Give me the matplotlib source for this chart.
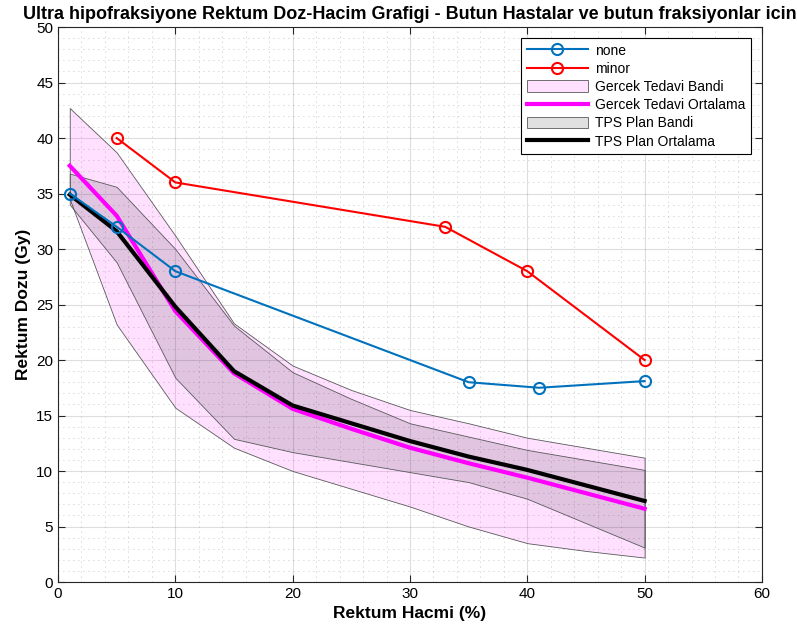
import numpy as np
import matplotlib
matplotlib.use("Agg")
import matplotlib.pyplot as plt
from matplotlib.ticker import MultipleLocator

plt.rcParams['font.family'] = ['Liberation Sans', 'DejaVu Sans']

# hasta egrileri
none_x = [1, 5, 10, 35, 41, 50]
none_y = [35.0, 32.0, 28.0, 18.0, 17.5, 18.1]
minor_x = [5, 10, 33, 40, 50]
minor_y = [40.0, 36.0, 32.0, 28.0, 20.0]

# bantlar ve ortalamalar
band_x = [1, 5, 10, 15, 20, 25, 30, 35, 40, 45, 50]
gercek_ust = [42.7, 38.7, 31.2, 23.3, 19.5, 17.3, 15.5, 14.3, 13.0, 12.1, 11.2]
gercek_alt = [34.5, 23.2, 15.7, 12.1, 10.0, 8.4, 6.8, 5.0, 3.5, 2.8, 2.2]
gercek_ort = [37.5, 33.0, 24.4, 18.8, 15.6, 13.8, 12.1, 10.7, 9.4, 8.0, 6.6]
tps_ust = [36.8, 35.6, 30.0, 23.1, 18.9, 16.5, 14.3, 13.1, 11.9, 11.0, 10.1]
tps_alt = [34.0, 28.8, 18.4, 12.9, 11.7, 10.8, 9.9, 9.0, 7.5, 5.3, 3.1]
tps_ort = [34.9, 31.6, 24.8, 19.0, 15.9, 14.3, 12.7, 11.3, 10.1, 8.7, 7.3]

fig = plt.figure(figsize=(7.97, 6.39), dpi=100)
ax = fig.add_axes([0.0728, 0.0892, 0.8832, 0.8685])

edge = (0.35, 0.35, 0.35)
l1, = ax.plot(none_x, none_y, '-o', color=(0, 0.447, 0.741), lw=1.5, ms=8,
              mfc='none', mew=1.5, zorder=5, label='none')
l2, = ax.plot(minor_x, minor_y, '-o', color='r', lw=1.5, ms=8,
              mfc='none', mew=1.5, zorder=5, label='minor')
f1 = ax.fill_between(band_x, gercek_alt, gercek_ust, facecolor=(1, 0, 1, 0.12),
                     edgecolor=edge, lw=0.6, zorder=2, label='Gercek Tedavi Bandi')
l3, = ax.plot(band_x, gercek_ort, color='#FF00FF', lw=3, zorder=3, label='Gercek Tedavi Ortalama')
f2 = ax.fill_between(band_x, tps_alt, tps_ust, facecolor=(0, 0, 0, 0.12),
                     edgecolor=edge, lw=0.6, zorder=2.5, label='TPS Plan Bandi')
l4, = ax.plot(band_x, tps_ort, color='k', lw=3, zorder=4, label='TPS Plan Ortalama')

ax.set_xlim(0, 60)
ax.set_ylim(0, 50)
ax.xaxis.set_major_locator(MultipleLocator(10))
ax.xaxis.set_minor_locator(MultipleLocator(2))
ax.yaxis.set_major_locator(MultipleLocator(5))
ax.yaxis.set_minor_locator(MultipleLocator(1))
ax.tick_params(which='both', direction='in', top=True, right=True, labelsize=11,
               color=(0.15, 0.15, 0.15))
ax.tick_params(which='major', length=5)
ax.tick_params(which='minor', length=0)
ax.grid(which='major', color=(0.15, 0.15, 0.15), alpha=0.15, lw=0.8)
ax.grid(which='minor', color=(0.15, 0.15, 0.15), alpha=0.35, lw=0.6, ls=(0, (1, 5)))
ax.set_axisbelow(True)
for s in ax.spines.values():
    s.set_color((0.15, 0.15, 0.15))
    s.set_linewidth(0.8)

ax.set_xlabel('Rektum Hacmi (%)', fontsize=12.5, fontweight='bold')
ax.set_ylabel('Rektum Dozu (Gy)', fontsize=12.5, fontweight='bold')
ax.set_title('Ultra hipofraksiyone Rektum Doz-Hacim Grafigi - Butun Hastalar ve butun fraksiyonlar icin',
             fontsize=13, fontweight='bold', pad=6)

leg = ax.legend(handles=[l1, l2, f1, l3, f2, l4], loc='upper right',
                bbox_to_anchor=(1, 1), borderaxespad=0.8, fontsize=10, handlelength=4.4,
                handleheight=0.9, fancybox=False, framealpha=1, edgecolor='k',
                borderpad=0.4, labelspacing=0.3, handletextpad=0.5)
leg.get_frame().set_linewidth(0.8)

fig.savefig('out.png', dpi=100)
